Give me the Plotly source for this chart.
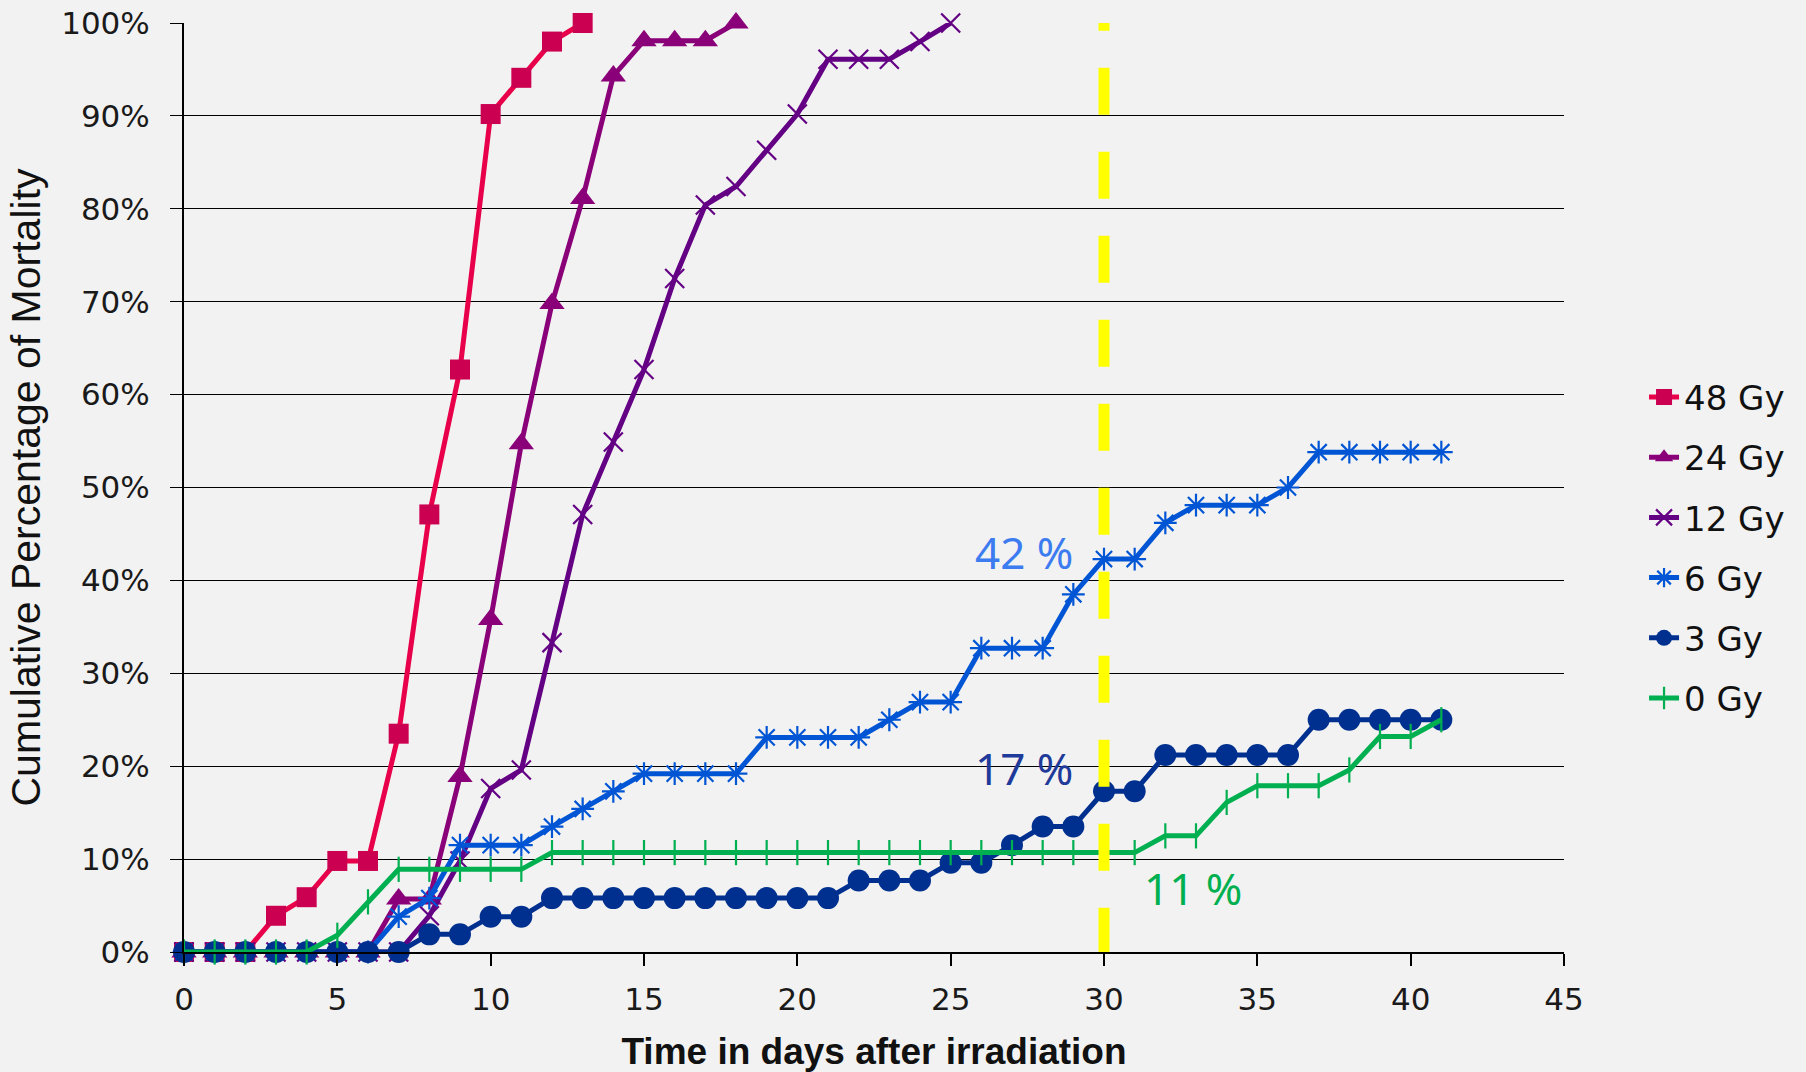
import plotly.graph_objects as go

# ---- data (cumulative % mortality by day) ----
days_48 = list(range(0, 14))
mort_48 = [0, 0, 0, 3.9, 5.9, 9.8, 9.8, 23.5, 47.1, 62.7, 90.2, 94.1, 98.0, 100]

days_24 = list(range(0, 19))
mort_24 = [0, 0, 0, 0, 0, 0, 0, 5.7, 5.7, 18.9, 35.8, 54.7, 69.8, 81.1, 94.3,
           98.1, 98.1, 98.1, 100]

days_12 = list(range(0, 26))
mort_12 = [0, 0, 0, 0, 0, 0, 0, 0, 3.9, 9.8, 17.6, 19.6, 33.3, 47.1, 54.9,
           62.7, 72.5, 80.4, 82.4, 86.3, 90.2, 96.1, 96.1, 96.1, 98.0, 100]

days_6 = list(range(0, 42))
mort_6 = [0, 0, 0, 0, 0, 0, 0, 3.8, 5.8, 11.5, 11.5, 11.5, 13.5, 15.4, 17.3,
          19.2, 19.2, 19.2, 19.2, 23.1, 23.1, 23.1, 23.1, 25.0, 26.9, 26.9,
          32.7, 32.7, 32.7, 38.5, 42.3, 42.3, 46.2, 48.1, 48.1, 48.1, 50.0,
          53.8, 53.8, 53.8, 53.8, 53.8]

days_3 = list(range(0, 42))
mort_3 = [0, 0, 0, 0, 0, 0, 0, 0, 1.9, 1.9, 3.8, 3.8, 5.8, 5.8, 5.8, 5.8, 5.8,
          5.8, 5.8, 5.8, 5.8, 5.8, 7.7, 7.7, 7.7, 9.6, 9.6, 11.5, 13.5, 13.5,
          17.3, 17.3, 21.2, 21.2, 21.2, 21.2, 21.2, 25.0, 25.0, 25.0, 25.0, 25.0]

days_0 = list(range(0, 42))
mort_0 = [0, 0, 0, 0, 0, 1.8, 5.4, 8.9, 8.9, 8.9, 8.9, 8.9, 10.7, 10.7, 10.7,
          10.7, 10.7, 10.7, 10.7, 10.7, 10.7, 10.7, 10.7, 10.7, 10.7, 10.7,
          10.7, 10.7, 10.7, 10.7, 10.7, 10.7, 12.5, 12.5, 16.1, 17.9, 17.9,
          17.9, 19.6, 23.2, 23.2, 25.0]

x_ticks = [0, 5, 10, 15, 20, 25, 30, 35, 40, 45]
y_ticks = [0, 10, 20, 30, 40, 50, 60, 70, 80, 90, 100]
y_ticklabels = ["0%", "10%", "20%", "30%", "40%", "50%", "60%", "70%", "80%",
                "90%", "100%"]

cutoff_day = 30
annot_labels = ["42 %", "17 %", "11 %"]
annot_x = [27.4, 27.4, 32.9]
annot_y = [43.1, 19.8, 6.9]

BG = "#F2F2F2"
TICK_FONT = dict(family="DejaVu Sans", size=31, color="#1a1a1a")

series = [
    ("48 Gy", days_48, mort_48, "#E8004A", "#CC0050", "square", 20, 0),
    ("24 Gy", days_24, mort_24, "#8A0078", "#8A0078", "triangle-up", 22, 0),
    ("12 Gy", days_12, mort_12, "#640084", "#640084", "x-thin-open", 19, 2.2),
    ("6 Gy", days_6, mort_6, "#0055D4", "#0055D4", "asterisk-open", 19, 2.2),
    ("3 Gy", days_3, mort_3, "#00308F", "#00308F", "circle", 22, 0),
    ("0 Gy", days_0, mort_0, "#00B050", "#00B050", "line-ns-open", 18, 2.2),
]

fig = go.Figure()
for name, xs, ys, lc, mc, sym, size, mlw in series:
    fig.add_trace(go.Scatter(
        x=xs, y=ys, name=name, mode="lines+markers",
        legendgroup=name,
        line=dict(color=lc, width=5),
        marker=dict(symbol=sym, size=size, color=mc,
                    line=dict(color=mc, width=mlw)),
        cliponaxis=False,
    ))

fig.add_shape(type="line", xref="x", yref="y",
              x0=cutoff_day, x1=cutoff_day, y0=-0.3, y1=100.4,
              line=dict(color="#FFFF00", width=11, dash="47px,37px"),
              layer="above")

colors_ann = ["#3C7CF0", "#1E3A9A", "#00B050"]
for t, ax_, ay_, c in zip(annot_labels, annot_x, annot_y, colors_ann):
    fig.add_annotation(x=ax_, y=ay_, xref="x", yref="y", text=t,
                       showarrow=False,
                       font=dict(family="Noto Sans", size=44, color=c))

fig.update_layout(
    width=1806, height=1072,
    paper_bgcolor=BG, plot_bgcolor=BG,
    margin=dict(l=184, r=242, t=23, b=120, autoexpand=False),
    showlegend=True,
    legend=dict(x=1.058, xanchor="left", y=0.435, yanchor="middle",
                font=dict(family="DejaVu Sans", size=34, color="#111111"),
                bgcolor="rgba(0,0,0,0)", tracegroupgap=13,
                itemwidth=30),
    xaxis=dict(range=[0, 45], tickvals=x_ticks, showgrid=False,
               zeroline=False, showline=True, linecolor="black", linewidth=2,
               ticks="outside", ticklen=12, tickwidth=2, tickcolor="black",
               tickfont=TICK_FONT, ticklabelstandoff=7, automargin=False,
               title=dict(text="<b>Time in days after irradiation</b>",
                          font=dict(family="Liberation Sans", size=37,
                                    color="#111111"),
                          standoff=30)),
    yaxis=dict(range=[0, 100], tickvals=y_ticks, ticktext=y_ticklabels,
               showgrid=True, gridcolor="black", gridwidth=1.4,
               zeroline=False, showline=True, linecolor="black", linewidth=2,
               ticks="outside", ticklen=12, tickwidth=1.4, tickcolor="black",
               tickfont=TICK_FONT, ticklabelstandoff=14, automargin=False,
               title=dict(text="Cumulative Percentage of Mortality",
                          font=dict(family="Liberation Sans", size=41,
                                    color="#111111"),
                          standoff=8)),
)

fig.write_html("out.html",
               config={"displayModeBar": False},
               post_script="document.body.style.margin='0';"
                           "document.body.style.overflow='hidden';")
